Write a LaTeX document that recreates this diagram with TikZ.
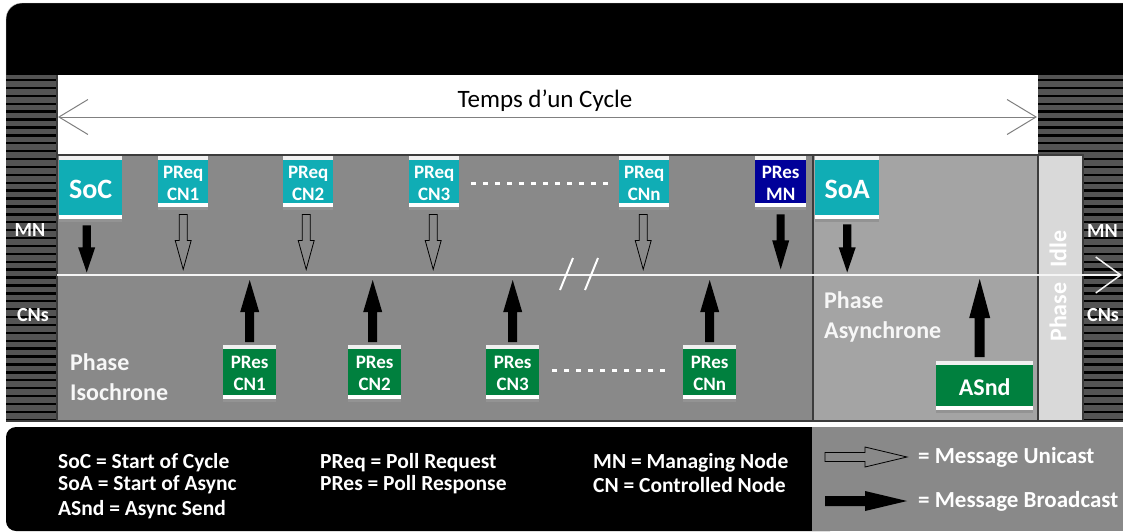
\documentclass[tikz,border=0pt]{standalone}
\usepackage{fontspec}
\setmainfont{Carlito}
\usepackage{tikz}
\usetikzlibrary{arrows.meta, positioning, calc}

\definecolor{tealsoc}{RGB}{16,173,181}
\definecolor{greenres}{RGB}{0,128,62}
\definecolor{bluemn}{RGB}{0,0,153}
\definecolor{grigioiso}{RGB}{137,137,137}
\definecolor{grigioasync}{RGB}{164,164,164}
\definecolor{grigioidle}{RGB}{217,217,217}
\definecolor{grigiostrisce}{RGB}{84,84,84}
\definecolor{bordo}{RGB}{60,60,60}

\newcommand{\msgfont}{\bfseries\fontsize{19}{22}\selectfont}
\newcommand{\startfont}{\bfseries\fontsize{28}{32}\selectfont}
\newcommand{\phasefont}{\bfseries\fontsize{24}{30}\selectfont}
\newcommand{\legfont}{\bfseries\fontsize{21.5}{24}\selectfont}
% freccia a blocco: partenza, mezza asta, mezza punta, base punta, punta
\newcommand{\msgarrow}[6][bcast]{\path[shift={(#2)}, #1] (-#3,0) -- (#3,0) -- (#3,#5) -- (#4,#5) -- (0,#6) -- (-#4,#5) -- (-#3,#5) -- cycle;}

\begin{document}
\begin{tikzpicture}[x=1pt, y=-1pt,
	msgbox/.style={anchor=north west, inner sep=0pt, text=white, align=center, font=\msgfont,
		path picture={
			\fill[white!88!gray] (path picture bounding box.north west) rectangle ([yshift=-4pt]path picture bounding box.north east);
			\fill[white] ([yshift=7pt]path picture bounding box.south west) rectangle ([yshift=3.5pt]path picture bounding box.south east);
			\fill[gray!85] ([yshift=3.5pt]path picture bounding box.south west) rectangle (path picture bounding box.south east);
		}},
	preqbox/.style={msgbox, fill=tealsoc, minimum width=50pt, minimum height=54pt},
	presbox/.style={msgbox, fill=greenres, minimum width=53pt, minimum height=57pt},
	startbox/.style={msgbox, fill=tealsoc, font=\startfont, minimum width=63pt, minimum height=66pt},
	bcast/.style={fill=black},
	ucast/.style={draw=black, line width=0.8pt},
	phase/.style={text=white!97!black, font=\phasefont, align=left, anchor=west, inner sep=0pt},
	lato/.style={text=white, font=\bfseries\fontsize{20}{24}\selectfont, inner sep=0pt},
	legenda/.style={text=white, font=\legfont, anchor=west, inner sep=0pt},
	puntini/.style={white, line width=3pt, dash pattern=on 5pt off 7pt},
	]
	\useasboundingbox (0,0) rectangle (1123,531);
	% Sfondo
	\fill[black, draw=gray!40, rounded corners=16pt] (6,3) rectangle (1150,100);
	\fill[grigiostrisce] (6,75) rectangle (57,420) (1038,75) rectangle (1123,420);
	\foreach \y in {80,87.9,...,420}
		\draw[black, line width=2.4pt] (6,\y) -- (57,\y) (1038,\y) -- (1123,\y);
	\fill[white] (57,75) rectangle (1038,155);
	\fill[grigioiso] (57,155) rectangle (813,420);
	\fill[grigioasync] (813,155) rectangle (1038,420);
	\fill[grigioidle] (1038,155) rectangle (1083,420);
	\draw[bordo, line width=1.2pt] (57,155) -- (1083,155) -- (1083,420) (813,155) -- (813,420) (1038,155) -- (1038,420) (57,75) -- (57,420);
	\draw[bordo, line width=1.5pt] (6,421) -- (1123,421);
	
	% Durata del ciclo
	\coordinate (cycA) at (58,117);
	\coordinate (cycB) at (1037,117);
	\draw[gray, line width=1pt, {Straight Barb[length=29pt,width=35pt]}-{Straight Barb[length=29pt,width=35pt]}] (cycA) -- (cycB);
	\node[font=\fontsize{25}{30}\selectfont] (temps) at (545,101) {Temps d'un Cycle};
	
	% Linea MN / CNs
	\coordinate (divA) at (57,275);
	\coordinate (divB) at (1122,275);
	\draw[white!92!gray, line width=1.5pt, -{Straight Barb[length=25pt,width=36pt]}] (divA) -- (divB);
	\draw[white, line width=2pt] (560,290) -- (573,258) (585,290) -- (598,258);
	
	% Etichette laterali
	\node[lato] (mnL) at (30,230) {MN};
	\node[lato] (cnL) at (33,315) {CNs};
	\node[lato, anchor=west] (mnR) at (1087,231) {MN};
	\node[lato, anchor=west] (cnR) at (1087,315) {CNs};
	\node[phase, anchor=center, rotate=90, text=white] (idle) at (1058,286) {Phase\hspace{15pt}Idle};
	
	% Fase isocrona
	\node[startbox] (soc) at (59,156) {SoC};
	\node[preqbox] (preq1) at (158,156) {PReq\\CN1};
	\node[preqbox] (preq2) at (283,156) {PReq\\CN2};
	\node[preqbox] (preq3) at (409,156) {PReq\\CN3};
	\node[preqbox] (preqn) at (619,156) {PReq\\CNn};
	\node[preqbox, fill=bluemn, minimum width=51pt] (presmn) at (755,156) {PRes\\MN};
	\node[presbox] (pres1) at (223,345) {PRes\\CN1};
	\node[presbox] (pres2) at (348,345) {PRes\\CN2};
	\node[presbox] (pres3) at (486,345) {PRes\\CN3};
	\node[presbox] (presn) at (683,345) {PRes\\CNn};
	\draw[puntini, shorten <=12pt, shorten >=9pt] (preq3.east) -- (preqn.west);
	\draw[puntini, shorten <=13pt, shorten >=17pt] ([yshift=3pt]pres3.east) -- ([yshift=3pt]presn.west);
	\node[phase] (iso) at (70,377) {Phase\\Isochrone};
	
	% Fase asincrona
	\node[startbox, minimum width=64pt] (soa) at (815,156) {SoA};
	\node[msgbox, fill=greenres, font=\bfseries\fontsize{24}{28}\selectfont, minimum width=97pt, minimum height=52pt] (asnd) at (936,361) {ASnd};
	\node[phase] (async) at (824,317) {Phase\\Asynchrone};
	
	% Frecce
	\msgarrow{[xshift=-4pt, yshift=-3pt]soc.south}{4.2}{8.5}{22}{47}
	\msgarrow[ucast]{[yshift=-4pt]preq1.south}{4}{8}{26}{55}
	\msgarrow[ucast]{[xshift=-2pt, yshift=-4pt]preq2.south}{4}{8}{26}{55}
	\msgarrow[ucast]{[xshift=-1pt, yshift=-4pt]preq3.south}{4}{8}{26}{55}
	\msgarrow[ucast]{[xshift=-1pt, yshift=-4pt]preqn.south}{4}{8}{26}{55}
	\msgarrow{[yshift=-4pt]presmn.south}{4}{8.5}{26}{55}
	\msgarrow{[yshift=-2pt]soa.south}{4.2}{8.5}{23}{48}
	\msgarrow{[yshift=3pt]pres1.north}{4.5}{9.5}{-30}{-62}
	\msgarrow{[xshift=-2pt, yshift=3pt]pres2.north}{4.5}{9.5}{-30}{-62}
	\msgarrow{[yshift=3pt]pres3.north}{4.5}{9.5}{-30}{-62}
	\msgarrow{[yshift=3pt]presn.north}{4.5}{9.5}{-30}{-62}
	\msgarrow{[xshift=-5pt, yshift=4pt]asnd.north}{5}{10.5}{-39}{-78}
	
	% Legenda
	\fill[black, rounded corners=10pt] (6,427) rectangle (840,531);
	\fill[grigioiso] (812,427) rectangle (1123,531);
	\node[legenda] (lsoc) at (58,463) {SoC = Start of Cycle};
	\node[legenda] (lsoa) at (58,485) {SoA = Start of Async};
	\node[legenda] (lasnd) at (58,510) {ASnd = Async Send};
	\node[legenda] (lpreq) at (320,463) {PReq = Poll Request};
	\node[legenda] (lpres) at (320,485) {PRes = Poll Response};
	\node[legenda] (lmn) at (593,463) {MN = Managing Node};
	\node[legenda] (lcn) at (593,485) {CN = Controlled Node};
	\coordinate (uni) at (825,457);
	\coordinate (bro) at (825,501);
	\msgarrow[ucast, rotate=90]{uni}{4.5}{10}{40}{82}
	\msgarrow[bcast, rotate=90]{bro}{5}{10}{40}{82}
	\node[legenda, font=\bfseries\fontsize{23}{26}\selectfont] (luni) at (918,457) {= Message Unicast};
	\node[legenda, font=\bfseries\fontsize{23}{26}\selectfont] (lbro) at (918,501) {= Message Broadcast};
\end{tikzpicture}
\end{document}
